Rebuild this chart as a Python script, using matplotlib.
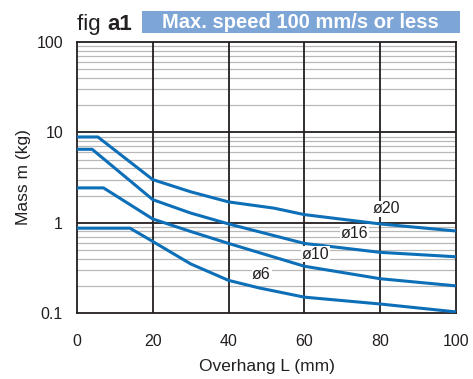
import numpy as np
import matplotlib.pyplot as plt
from matplotlib.patches import Rectangle
from matplotlib.ticker import FixedLocator, NullFormatter

plt.rcParams['font.family'] = ['Liberation Sans', 'DejaVu Sans']

# overhang (mm) and allowable mass (kg) per bore size
x_20 = [0, 5.5, 20, 30, 40, 52, 60, 80, 100]
m_20 = [8.9, 8.9, 3.0, 2.2, 1.7, 1.45, 1.23, 0.97, 0.81]
x_16 = [0, 4, 20, 30, 40, 60, 80, 100]
m_16 = [6.5, 6.5, 1.8, 1.28, 0.97, 0.59, 0.47, 0.42]
x_10 = [0, 7, 20, 30, 40, 60, 80, 100]
m_10 = [2.43, 2.43, 1.1, 0.8, 0.59, 0.33, 0.24, 0.2]
x_6 = [0, 14, 20, 30, 40, 48, 60, 80, 100]
m_6 = [0.87, 0.87, 0.62, 0.35, 0.23, 0.19, 0.15, 0.126, 0.103]

labels = ['ø20', 'ø16', 'ø10', 'ø6']
label_pos = [(81.7, 1.42), (73.3, 0.755), (63, 0.45), (48.7, 0.27)]

x_ticks = [0, 20, 40, 60, 80, 100]
y_ticks = [0.1, 1, 10, 100]
y_ticklabels = ['0.1', '1', '10', '100']

blue = '#0d6fb8'
dark = '#231f20'

fig = plt.figure(figsize=(4.73, 3.79), dpi=100)
ax = fig.add_axes([0.1628, 0.174, 0.801, 0.715])

# minor horizontal grid first, then major lines on top
minor = [k * 10.0 ** e for e in range(-1, 2) for k in range(2, 10)]
for v in minor:
    ax.axhline(v, color='#b8b8b8', lw=0.9, zorder=1)
for v in [1, 10]:
    ax.axhline(v, color=dark, lw=1.3, zorder=2)
for v in [20, 40, 60, 80]:
    ax.axvline(v, color=dark, lw=1.3, zorder=2)

for xs, ms in [(x_20, m_20), (x_16, m_16), (x_10, m_10), (x_6, m_6)]:
    ax.plot(xs, ms, color=blue, lw=2.2, zorder=3, solid_capstyle='butt')

for lab, (lx, ly) in zip(labels, label_pos):
    ax.text(lx, ly, lab, ha='center', va='center', fontsize=11.5, color=dark, zorder=4,
            bbox=dict(facecolor='white', edgecolor='none', pad=0.5))

ax.set_yscale('log')
ax.set_xlim(0, 100)
ax.set_ylim(0.1, 100)
ax.xaxis.set_major_locator(FixedLocator(x_ticks))
ax.yaxis.set_major_locator(FixedLocator(y_ticks))
ax.set_yticklabels(y_ticklabels)
ax.yaxis.set_minor_formatter(NullFormatter())
ax.tick_params(which='both', length=0, labelsize=11.5, colors=dark)
ax.tick_params(axis='x', pad=15)
ax.tick_params(axis='y', pad=10)
for s in ax.spines.values():
    s.set_color(dark)
    s.set_linewidth(1.3)

ax.set_xlabel('Overhang L (mm)', fontsize=12.5, color=dark, labelpad=7)
ax.set_ylabel('Mass m (kg)', fontsize=12.5, color=dark, labelpad=4)

# title: "fig a1" plus the blue speed banner
fig.text(0.163, 0.921, 'fig ', fontsize=16, color=dark, va='baseline', ha='left')
fig.text(0.228, 0.921, 'a1', fontsize=16, color=dark, weight='bold', va='baseline', ha='left')
fig.patches.append(Rectangle((0.300, 0.913), 0.6725, 0.058, transform=fig.transFigure,
                             facecolor='#7da5d6', edgecolor='none'))
fig.text(0.636, 0.941, 'Max. speed 100 mm/s or less', fontsize=14.5, color='white', weight='bold',
         ha='center', va='center')

fig.savefig('out.png', dpi=100)
